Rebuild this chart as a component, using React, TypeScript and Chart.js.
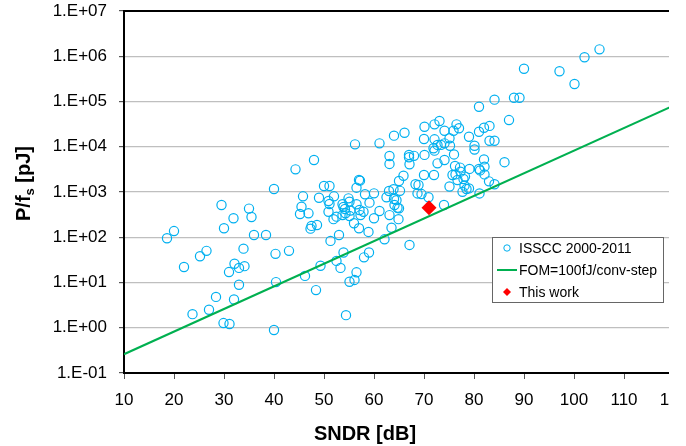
import React, { useEffect, useRef } from 'react';
import { Chart, registerables } from 'chart.js';

Chart.register(...registerables);

// ISSCC 2000-2011 survey points (SNDR [dB], P/fs [pJ])
const issccSndr = [
  18.6, 20, 22, 23.7, 25.2, 26.5, 27, 28.4, 29.5, 30, 29.9, 31.1, 31, 31.9, 32.1, 32, 33, 33, 33.9, 34.1,
  35, 35.5, 36, 38.4, 40, 40.3, 40.4, 40, 43, 44.3, 45.8, 45.5, 45.2, 46.9, 47.5, 47.3, 48.6, 48, 49, 50,
  51.1, 50.9, 51.1, 50.9, 52, 51.9, 52.5, 51.3, 53, 52.5, 53.3, 53.9, 53.9, 53.7, 54.2, 54.9, 55.1, 54.3, 55.1, 56.2,
  56.5, 57, 57.2, 56.5, 57.1, 56, 57, 57.3, 57.9, 58.9, 60, 59.1, 58.2, 60, 58, 59, 61.1, 61.1, 62.1, 62.5,
  63.1, 63.5, 63.1, 63.1, 64, 64, 64.1, 65, 65.2, 64.9, 63.9, 49.3, 46.2, 48.4, 55.1, 56.1, 56.5, 54.4, 53.7, 55.3,
  64.7, 63, 65.9, 84.1, 88, 89.1, 81, 87, 66.1, 70.1, 72.1, 73.1, 74.1, 75.9, 76.5, 77, 79, 81, 82, 83.1,
  70, 72.1, 74.1, 75.1, 73.4, 75.2, 72.7, 71.9, 72.1, 80.1, 80.1, 83.1, 84.1, 76, 67, 68, 67, 70.1, 67.1, 74.1,
  72.7, 82, 86.1, 70, 72, 76.2, 77.2, 76.3, 75.7, 77.3, 78.2, 79.1, 81, 81.2, 82.1, 76.7, 77.9, 78.1, 78.5, 75.1,
  77.7, 79, 83, 68.9, 68.3, 105.1, 102.1, 97.1, 100.1, 90, 82.1, 84.1, 81.1, 74, 65, 64.5, 67.1, 68.7, 69.5, 70.9,
];
const issccEnergy = [
  95, 137, 22, 2.0, 38, 50, 2.5, 4.8, 515, 158, 1.27, 1.21, 17, 263, 26, 4.2, 21, 8.9, 56, 23,
  430, 280, 112, 112, 1165, 43, 10.2, 0.89, 50, 3170, 803, 473, 327, 338, 178, 155, 187, 5090, 748, 1360,
  1360, 631, 543, 367, 803, 251, 285, 83, 112, 30, 21, 46, 467, 537, 421, 724, 610, 339, 295, 11300,
  1245, 1840, 1780, 537, 400, 204, 158, 309, 367, 131, 263, 582, 891, 933, 36, 46, 11900, 380, 90, 764,
  309, 162, 6250, 4170, 17600, 700, 515, 1750, 1060, 251, 1150, 23.5, 14, 6.8, 10.4, 11.4, 16.8, 1.9, 309, 390,
  446, 1050, 2290, 110000, 121000, 121000, 76700, 38900, 20400, 27700, 31300, 37100, 22600, 22600, 31300, 25700, 16600, 21400, 26300, 28900,
  14800, 14600, 11900, 15400, 11000, 10500, 11000, 9250, 8200, 10500, 8700, 13600, 13600, 6760, 6600, 6300, 5850, 6600, 4100, 5090,
  4300, 5250, 4560, 2380, 2380, 3760, 3460, 2450, 2380, 2820, 2190, 3240, 3240, 3000, 2450, 1840, 1940, 1380, 1165, 1320,
  1010, 1200, 1720, 1430, 1480, 1420000, 950000, 465000, 244000, 530000, 3630, 1480, 930, 515, 436, 661, 67.6, 930, 900, 764,
];

// FOM = 100 fJ/conv-step reference line (end points)
const fomSndr = [10, 120];
const fomEnergy = [0.26, 82000];

// This work
const thisWorkSndr = [71];
const thisWorkEnergy = [450];

const xTickValues = [10, 20, 30, 40, 50, 60, 70, 80, 90, 100, 110, 120];
const xTickLabels = ['10', '20', '30', '40', '50', '60', '70', '80', '90', '100', '110', '120'];
const yTickValues = [0.1, 1, 10, 100, 1e3, 1e4, 1e5, 1e6, 1e7];
const yTickLabels = ['1.E-01', '1.E+00', '1.E+01', '1.E+02', '1.E+03', '1.E+04', '1.E+05', '1.E+06', '1.E+07'];

const legendLabels = ['ISSCC 2000-2011', 'FOM=100fJ/conv-step', 'This work'];
const xTitle = 'SNDR [dB]';

const FONT = "'Liberation Sans', Arial, sans-serif";
const BLUE = '#00b0f0';
const GREEN = '#00b050';
const RED = '#ff0000';

const decorPlugin = {
  id: 'decor',
  afterDraw(chart: any) {
    const { ctx, chartArea } = chart;
    ctx.save();
    // top frame line
    ctx.strokeStyle = '#000';
    ctx.lineWidth = 2;
    ctx.beginPath();
    ctx.moveTo(chartArea.left - 1, chartArea.top);
    ctx.lineTo(chartArea.right, chartArea.top);
    ctx.moveTo(chartArea.right, chartArea.top);
    ctx.lineTo(chartArea.right, chartArea.bottom);
    ctx.stroke();

    // x title
    ctx.fillStyle = '#000';
    ctx.font = `bold 20px ${FONT}`;
    ctx.textAlign = 'center';
    ctx.textBaseline = 'alphabetic';
    ctx.fillText(xTitle, 365, 440);

    // y title with subscript
    ctx.save();
    ctx.translate(30, 221);
    ctx.rotate(-Math.PI / 2);
    ctx.textAlign = 'left';
    ctx.font = `bold 20px ${FONT}`;
    ctx.fillText('P/f', 0, 0);
    let w = ctx.measureText('P/f').width;
    ctx.font = `bold 13px ${FONT}`;
    ctx.fillText('s', w, 4);
    w += ctx.measureText('s').width;
    ctx.font = `bold 20px ${FONT}`;
    ctx.fillText(' [pJ]', w, 0);
    ctx.restore();

    // legend
    const bx = 492.5, by = 237.5, bw = 171, bh = 65;
    ctx.fillStyle = '#fff';
    ctx.fillRect(bx, by, bw, bh);
    ctx.strokeStyle = '#666';
    ctx.lineWidth = 1;
    ctx.strokeRect(bx, by, bw, bh);
    const rows = [248, 270, 292];
    // circle
    ctx.strokeStyle = BLUE;
    ctx.lineWidth = 1;
    ctx.beginPath();
    ctx.arc(507, rows[0], 3.2, 0, Math.PI * 2);
    ctx.stroke();
    // line
    ctx.strokeStyle = GREEN;
    ctx.lineWidth = 2;
    ctx.beginPath();
    ctx.moveTo(497, rows[1]);
    ctx.lineTo(517, rows[1]);
    ctx.stroke();
    // diamond
    ctx.fillStyle = RED;
    ctx.beginPath();
    ctx.moveTo(507, rows[2] - 4);
    ctx.lineTo(511, rows[2]);
    ctx.lineTo(507, rows[2] + 4);
    ctx.lineTo(503, rows[2]);
    ctx.closePath();
    ctx.fill();
    ctx.fillStyle = '#000';
    ctx.font = `14px ${FONT}`;
    ctx.textAlign = 'left';
    ctx.textBaseline = 'middle';
    legendLabels.forEach((t, i) => ctx.fillText(t, 519, rows[i] + 1));
    ctx.restore();
  },
};

export default function App() {
  const canvasRef = useRef<HTMLCanvasElement | null>(null);

  useEffect(() => {
    if (!canvasRef.current) return;
    const scatterData = issccSndr.map((x, i) => ({ x, y: issccEnergy[i] }));
    const fomData = fomSndr.map((x, i) => ({ x, y: fomEnergy[i] }));
    const workData = thisWorkSndr.map((x, i) => ({ x, y: thisWorkEnergy[i] }));

    const chart = new Chart(canvasRef.current, {
      type: 'scatter',
      data: {
        datasets: [
          {
            label: legendLabels[2],
            data: workData,
            pointStyle: 'rectRot',
            pointRadius: 7.5,
            backgroundColor: RED,
            borderColor: RED,
            borderWidth: 0,
            order: 0,
          },
          {
            label: legendLabels[1],
            type: 'line',
            data: fomData,
            borderColor: GREEN,
            borderWidth: 2,
            pointRadius: 0,
            fill: false,
            order: 1,
          } as any,
          {
            label: legendLabels[0],
            data: scatterData,
            pointStyle: 'circle',
            pointRadius: 4.6,
            backgroundColor: 'rgba(0,0,0,0)',
            borderColor: BLUE,
            borderWidth: 1.2,
            order: 2,
          },
        ],
      },
      options: {
        animation: false,
        responsive: false,
        maintainAspectRatio: false,
        layout: { padding: { left: 0, top: 11, right: 26, bottom: 0 } },
        plugins: {
          legend: { display: false },
          tooltip: { enabled: false },
          title: { display: false },
        },
        scales: {
          x: {
            type: 'linear',
            min: 10,
            max: 120,
            afterBuildTicks: (s: any) => {
              s.ticks = xTickValues.map((v) => ({ value: v }));
            },
            afterFit: (s: any) => {
              s.height = 73;
            },
            ticks: {
              callback: (_v: any, i: number) => xTickLabels[i],
              color: '#000',
              font: { size: 17, family: FONT },
              padding: 11,
              maxRotation: 0,
              autoSkip: false,
            },
            grid: {
              drawOnChartArea: false,
              drawTicks: true,
              tickLength: 6,
              tickColor: '#555',
              tickWidth: 1,
            },
            border: { color: '#000', width: 2 },
          },
          y: {
            type: 'logarithmic',
            min: 0.1,
            max: 1e7,
            afterBuildTicks: (s: any) => {
              s.ticks = yTickValues.map((v) => ({ value: v }));
            },
            afterFit: (s: any) => {
              s.width = 124;
              s.paddingTop = 0;
              s.paddingBottom = 0;
            },
            ticks: {
              callback: (_v: any, i: number) => yTickLabels[i],
              color: '#000',
              font: { size: 17, family: FONT },
              padding: 12,
              autoSkip: false,
            },
            grid: {
              color: '#bfbfbf',
              lineWidth: 1.2,
              tickColor: '#555',
              tickLength: 5,
              drawTicks: true,
            },
            border: { color: '#000', width: 2 },
          },
        },
      },
      plugins: [decorPlugin],
    } as any);

    return () => chart.destroy();
  }, []);

  return (
    <div
      style={{
        position: 'absolute',
        left: 0,
        top: 0,
        width: 669,
        height: 446,
        overflow: 'hidden',
        background: '#fff',
      }}
    >
      <canvas ref={canvasRef} width={700} height={446} style={{ display: 'block', width: 700, height: 446 }} />
    </div>
  );
}
